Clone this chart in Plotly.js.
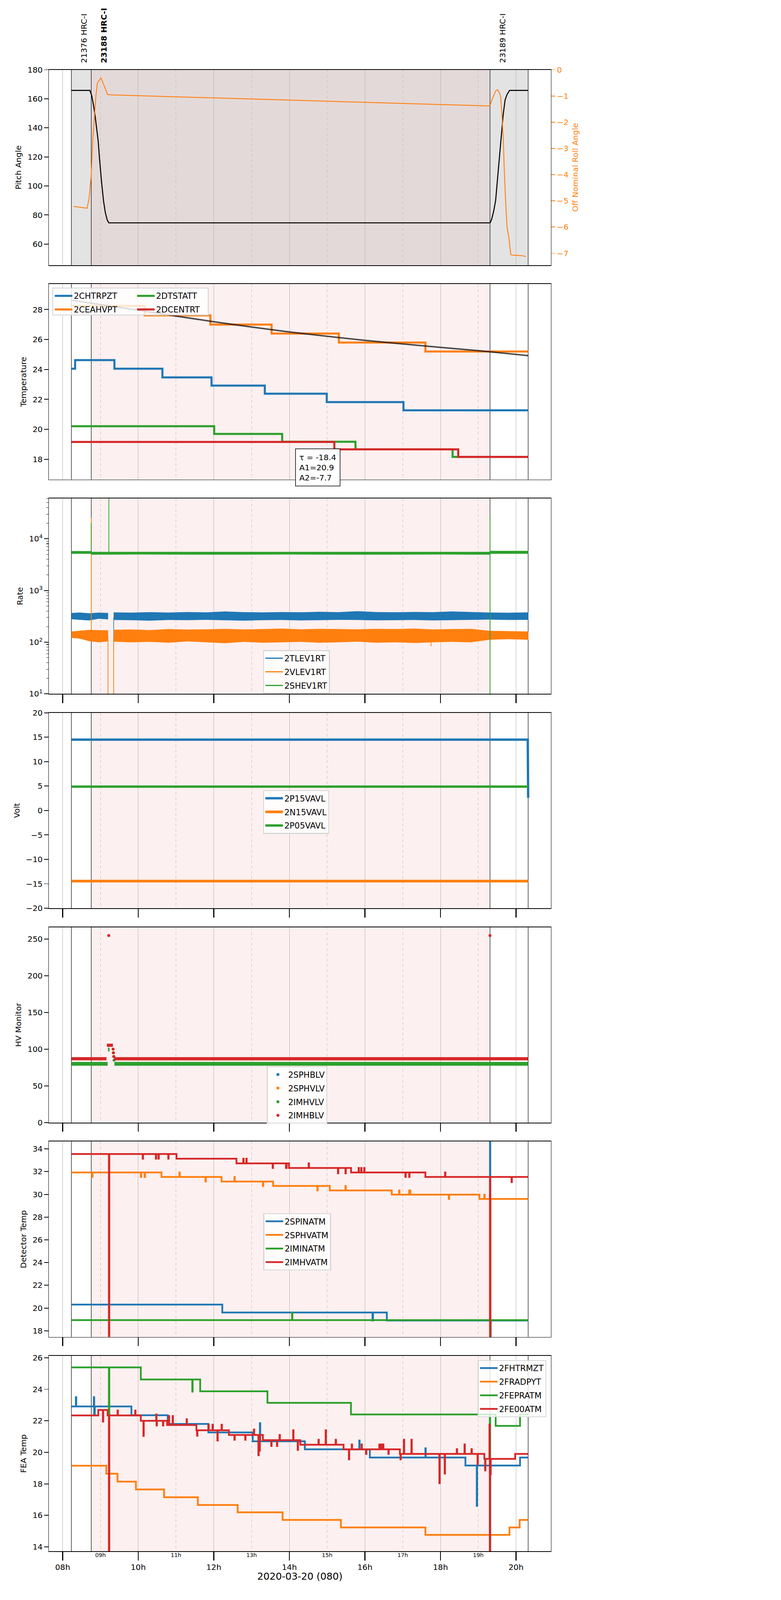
<!DOCTYPE html>
<html><head><meta charset="utf-8">
<script src="https://cdn.plot.ly/plotly-3.0.1.min.js"></script>
<style>body{margin:0;background:#fff}#chart{width:2000px;height:5400px;transform:scale(0.75);transform-origin:0 0}</style>
</head><body><div id="chart"></div>
<script>
// ---------------- DATA (time in decimal hours, 2020-03-20) ----------------
const evenHours = [8, 10, 12, 14, 16, 18, 20];
const evenLabels = ['08h', '10h', '12h', '14h', '16h', '18h', '20h'];
const oddHours = [9, 11, 13, 15, 17, 19];
const oddLabels = ['09h', '11h', '13h', '15h', '17h', '19h'];
const obsTimes = [8.23, 8.756, 19.31];
const obsLabels = ['21376 HRC-I', '<b>23188 HRC-I</b>', '23189 HRC-I'];
const obsEnd = 20.32;

// Panel 1: pitch / roll
const pitchT = [8.23, 8.72, 8.77, 8.82, 8.86, 8.90, 8.94, 8.975, 9.025, 9.08, 9.13, 9.18, 9.222, 19.311, 19.35, 19.41, 19.46, 19.51, 19.56, 19.61, 19.66, 19.71, 19.76, 19.83, 20.32];
const pitchV = [165.8, 165.8, 162, 155, 148, 140, 131, 119, 104, 90, 81.5, 76.5, 74.6, 74.6, 76.7, 82.9, 90.2, 105, 119.8, 134.6, 149.3, 159.2, 162.9, 165.8, 165.8];
const rollT = [8.289, 8.428, 8.60, 8.647, 8.70, 8.756, 8.80, 8.837, 8.88, 8.922, 8.96, 9.016, 9.10, 9.186, 9.287, 19.261, 19.311, 19.38, 19.46, 19.51, 19.56, 19.59, 19.62, 19.66, 19.69, 19.72, 19.76, 19.81, 19.86, 19.91, 20.06, 20.21, 20.26];
const rollV = [-5.21, -5.24, -5.27, -5.28, -4.9, -4.0, -2.6, -1.81, -1.0, -0.49, -0.42, -0.31, -0.62, -0.94, -0.96, -1.38, -1.36, -1.08, -0.81, -0.76, -0.88, -1.02, -1.56, -2.58, -3.88, -4.90, -5.99, -6.40, -7.05, -7.07, -7.08, -7.10, -7.13];

// Panel 2: temperature (step series)
const chtrT = [8.23, 8.33, 9.37, 10.64, 11.94, 13.35, 14.99, 17.02, 20.32];
const chtrV = [24.05, 24.62, 24.05, 23.47, 22.92, 22.38, 21.82, 21.27, 21.27];
const ceahT = [8.23, 10.17, 11.91, 13.53, 15.31, 17.60, 20.32];
const ceahV = [28.24, 27.61, 27.0, 26.4, 25.8, 25.2, 25.2];
const dtstT = [8.23, 12.01, 13.81, 15.75, 18.32, 20.32];
const dtstV = [20.21, 19.69, 19.17, 18.66, 18.16, 18.16];
const dcenT = [8.23, 15.19, 18.47, 20.32];
const dcenV = [19.16, 18.66, 18.16, 18.16];
const fitT = [8.23, 10.32, 11.91, 13.99, 16.01, 18.01, 19.26, 20.32];
const fitV = [28.63, 27.83, 27.22, 26.51, 25.94, 25.47, 25.19, 24.92];
const fitText = 'τ = -18.4<br>A1=20.9<br>A2=-7.7';

// Panel 3: rates (band envelopes + spikes)
const tlevA_T = [8.23, 8.45, 8.70, 8.95, 9.20];
const tlevA_hi = [365, 372, 360, 370, 365];
const tlevA_lo = [280, 272, 265, 285, 278];
const bandB_T = [9.35, 9.8, 10.3, 10.8, 11.3, 11.8, 12.3, 12.8, 13.3, 13.8, 14.3, 14.8, 15.3, 15.8, 16.3, 16.8, 17.3, 17.8, 18.3, 18.8, 19.3, 19.8, 20.32];
const tlevB_hi = [375, 370, 378, 372, 380, 375, 390, 378, 374, 380, 376, 384, 378, 395, 380, 376, 382, 378, 390, 380, 372, 368, 375];
const tlevB_lo = [270, 268, 262, 270, 268, 272, 266, 262, 268, 270, 265, 268, 272, 270, 266, 268, 270, 265, 268, 272, 275, 270, 272];
const vlevA_hi = [160, 165, 172, 170, 168];
const vlevA_lo = [122, 118, 105, 100, 104];
const vlevB_hi = [172, 175, 170, 178, 174, 176, 180, 175, 178, 182, 176, 180, 178, 176, 180, 178, 182, 175, 178, 180, 165, 162, 160];
const vlevB_lo = [103, 100, 102, 98, 104, 100, 96, 102, 98, 100, 102, 98, 100, 103, 98, 100, 97, 100, 102, 100, 112, 115, 112];
const shevT = [8.23, 8.75, 8.76, 10, 12, 14, 16, 18, 19.3, 19.32, 20.32];
const shev_hi = [5750, 5750, 5550, 5550, 5600, 5550, 5550, 5550, 5550, 5800, 5800];
const shev_lo = [5150, 5150, 4950, 5000, 4950, 5000, 4950, 5000, 4950, 5150, 5150];
const tlevSpikeT = [9.35, 9.35];
const tlevSpikeV = [300, 69];
const vlevSpikeT = [8.756, 8.756, null, 9.20, 9.20, null, 9.35, 9.35, null, 17.75, 17.75];
const vlevSpikeV = [130, 25400, null, 130, 1, null, 1, 130, null, 130, 83];
const shevSpikeT = [8.756, 8.756, null, 9.222, 9.222, null, 19.31, 19.31];
const shevSpikeV = [5300, 20400, null, 5300, 1e6, null, 29000, 1];

// Panel 4: volts
const p15T = [8.23, 20.31, 20.32];
const p15V = [14.5, 14.5, 2.6];
const n15T = [8.23, 20.32];
const n15V = [-14.45, -14.45];
const p05T = [8.23, 20.32];
const p05V = [4.88, 4.88];

// Panel 5: HV monitor
const imhbT = [8.23, 9.16, null, 9.17, 9.33, null, 9.36, 20.32];
const imhbV = [86.9, 86.9, null, 105.3, 105.3, null, 86.9, 86.9];
const imhbPtT = [9.22, 9.335, 9.345, 9.355, 19.31];
const imhbPtV = [254.8, 100, 95, 90, 254.8];
const imhvT = [8.23, 9.19, null, 9.20, 9.24, null, 9.37, 20.32];
const imhvV = [80, 80, null, 99.5, 99.5, null, 80, 80];
const imhvPtT = [9.34, 9.35, 9.36];
const imhvPtV = [95, 90, 85];

// Panel 6: detector temps (step, hv)
const spinT = [8.23, 12.225, 16.20, 16.215, 16.58, 19.31, 19.318, 20.32];
const spinV = [20.30, 19.61, 18.9, 19.61, 18.9, 40, 18.9, 18.9];
const sphvT = [8.23, 8.776, 8.79, 10.068, 10.08, 10.167, 10.18, 10.616, 11.09, 11.10, 11.78, 11.79, 12.205, 12.545, 12.555, 13.30, 13.31, 13.57, 14.74, 14.75, 15.07, 15.484, 15.494, 16.71, 16.905, 16.915, 17.17, 17.20, 18.22, 18.23, 19.03, 19.16, 19.17, 19.315, 19.325, 20.32];
const sphvV = [31.93, 31.53, 31.93, 31.53, 31.93, 31.53, 31.93, 31.53, 31.93, 31.53, 31.13, 31.53, 31.13, 31.53, 31.13, 30.74, 31.13, 30.74, 30.35, 30.74, 30.35, 30.74, 30.35, 29.98, 30.35, 29.98, 30.35, 29.98, 29.6, 29.98, 29.6, 29.98, 29.6, 0, 29.6, 29.6];
const iminT = [8.23, 14.07, 14.08, 19.32, 19.33, 20.32];
const iminV = [18.94, 19.61, 18.94, 0, 18.94, 18.94];
const imhvaT = [8.23, 9.223, 9.235, 10.118, 10.128, 10.466, 10.476, 10.535, 10.545, 10.794, 10.804, 11.012, 12.60, 12.78, 12.79, 12.86, 12.87, 13.557, 13.567, 13.91, 13.93, 13.99, 14.51, 14.52, 15.285, 15.295, 15.484, 15.494, 15.633, 15.832, 15.842, 15.90, 15.91, 15.98, 15.99, 17.07, 17.08, 17.17, 17.18, 17.60, 18.12, 18.13, 19.31, 19.318, 19.88, 19.89, 20.32];
const imhvaV = [33.55, 0, 33.55, 33.14, 33.55, 33.14, 33.55, 33.14, 33.55, 33.14, 33.55, 33.14, 32.73, 33.14, 32.73, 33.14, 32.73, 32.32, 32.73, 32.32, 32.73, 32.32, 32.73, 32.32, 31.85, 32.32, 31.85, 32.32, 31.93, 32.32, 31.93, 32.32, 31.93, 32.32, 31.93, 31.53, 31.93, 31.53, 31.93, 31.53, 31.93, 31.53, 0, 31.53, 31.08, 31.53, 31.53];

// Panel 7: FEA temps (step, hv)
const fhtrT = [8.23, 8.349, 8.36, 8.825, 8.835, 8.85, 9.82, 10.78, 11.856, 13.03, 13.22, 13.23, 14.41, 15.85, 15.86, 16.13, 17.60, 17.61, 18.66, 18.96, 18.97, 20.105, 20.32];
const fhtrV = [22.91, 23.5, 22.91, 23.5, 22.35, 22.91, 22.35, 21.80, 21.26, 20.70, 21.85, 20.70, 20.19, 20.75, 20.19, 19.67, 20.25, 19.67, 19.16, 16.6, 19.16, 19.67, 19.67];
const fradT = [8.23, 9.154, 9.452, 9.939, 10.683, 11.577, 12.632, 13.82, 15.364, 17.60, 19.826, 20.095, 20.32];
const fradV = [19.15, 18.64, 18.14, 17.64, 17.15, 16.66, 16.19, 15.71, 15.23, 14.76, 15.23, 15.71, 15.71];
const fepT = [8.23, 9.223, 9.235, 10.068, 11.43, 11.44, 11.64, 13.42, 15.63, 19.305, 19.315, 19.46, 20.105, 20.32];
const fepV = [25.39, 22.4, 25.39, 24.62, 23.85, 24.62, 23.87, 23.14, 22.40, 13, 22.40, 21.68, 22.40, 22.40];
const fe00T = [8.23, 8.943, 9.064, 9.074, 9.19, 9.223, 9.235, 9.452, 9.462, 9.918, 9.928, 10.068, 10.137, 10.147, 10.475, 10.485, 10.495, 10.654, 10.664, 10.765, 10.81, 10.82, 10.91, 10.92, 11.28, 11.29, 11.54, 11.557, 11.567, 11.857, 11.867, 11.966, 11.976, 12.095, 12.105, 12.205, 12.215, 12.40, 12.545, 12.555, 12.83, 12.84, 13.06, 13.07, 13.18, 13.19, 13.21, 13.22, 13.30, 13.52, 13.53, 13.67, 13.68, 13.74, 13.75, 14.10, 14.11, 14.22, 14.23, 14.29, 14.77, 14.78, 14.96, 14.97, 15.225, 15.235, 15.435, 15.575, 15.585, 15.65, 15.66, 15.91, 15.92, 16.03, 16.04, 16.38, 16.39, 16.43, 16.44, 16.48, 16.49, 16.62, 16.63, 16.925, 16.94, 16.95, 17.03, 17.04, 17.23, 17.24, 17.97, 17.98, 18.11, 18.12, 18.43, 18.44, 18.635, 18.645, 18.82, 18.83, 18.98, 18.99, 19.16, 19.18, 19.19, 19.295, 19.305, 19.315, 19.33, 19.976, 20.32];
const fe00V = [22.34, 22.69, 21.95, 22.69, 22.34, 13, 22.34, 22.65, 22.34, 22.65, 22.34, 22.0, 21.04, 22.0, 22.4, 21.7, 22.0, 21.7, 22.0, 21.73, 22.3, 21.73, 22.3, 21.73, 22.1, 21.73, 21.4, 21.05, 21.4, 21.75, 21.4, 21.75, 21.4, 20.75, 21.4, 21.75, 21.4, 21.1, 20.8, 21.1, 20.8, 21.1, 21.45, 21.1, 19.81, 21.1, 20.1, 21.1, 20.77, 20.4, 20.77, 20.4, 20.77, 21.1, 20.77, 21.4, 20.77, 20.15, 20.77, 20.48, 20.8, 20.48, 21.4, 20.48, 20.8, 20.48, 20.19, 19.55, 20.19, 20.5, 20.19, 20.5, 20.19, 19.9, 20.19, 20.5, 20.19, 20.5, 20.19, 20.5, 20.19, 19.9, 20.19, 19.9, 19.55, 19.9, 20.8, 19.9, 20.8, 19.9, 18.04, 19.9, 18.65, 19.9, 20.2, 19.9, 20.5, 19.9, 20.2, 19.9, 19.25, 19.9, 19.58, 18.85, 19.58, 21.75, 13, 18.6, 19.58, 19.9, 19.9];

// ---------------- STYLE / LAYOUT ----------------
const C = {blue: '#1f77b4', orange: '#ff7f0e', green: '#2ca02c', red: '#d62728'};
const FONT = 'DejaVu Sans';
const X_RANGE = [7.636, 20.922];
const TOP = 238, PH = 667, PSTEP = 731.67, BOT = 5295, PLOT_H = 5057, LEFT = 167, PLOT_W = 1714;
function dom(i) { const t = TOP + i * PSTEP, b = t + PH; return [(BOT - b) / PLOT_H, (BOT - t) / PLOT_H]; }
function px(x) { return (x - LEFT) / PLOT_W; }
function py(y) { return (BOT - y) / PLOT_H; }
const xn = i => i === 0 ? 'x' : 'x' + (i + 1);
const yn = i => i === 0 ? 'y' : 'y' + (i + 1);
function tr(i, o) { o.xaxis = xn(i); o.yaxis = yn(i); if (o.name) o.legendgroup = o.name; return o; }

const traces = [];
traces.push(tr(0, {x: pitchT, y: pitchV, mode: 'lines', line: {color: 'black', width: 3.5}, showlegend: false}));
traces.push({x: rollT, y: rollV, xaxis: 'x', yaxis: 'y8', mode: 'lines', line: {color: C.orange, width: 3}, showlegend: false});

const stepLine = (i, x, y, color, name, legend, w) => tr(i, {x: x, y: y, mode: 'lines', line: {color: color, width: w, shape: 'hv'}, name: name, legend: legend});
traces.push(stepLine(1, chtrT, chtrV, C.blue, '2CHTRPZT', 'legend', 7));
traces.push(stepLine(1, ceahT, ceahV, C.orange, '2CEAHVPT', 'legend', 7));
traces.push(stepLine(1, dtstT, dtstV, C.green, '2DTSTATT', 'legend2', 7));
traces.push(stepLine(1, dcenT, dcenV, C.red, '2DCENTRT', 'legend2', 7));
traces.push(tr(1, {x: fitT, y: fitV, mode: 'lines', line: {color: 'rgba(0,0,0,0.7)', width: 5, shape: 'spline'}, showlegend: false}));

function band(i, T, hi, lo, color) {
  return tr(i, {x: T.concat(T.slice().reverse()), y: hi.concat(lo.slice().reverse()), mode: 'lines', fill: 'toself',
    fillcolor: color, line: {color: color, width: 1}, showlegend: false, hoverinfo: 'skip'});
}
traces.push(band(2, tlevA_T, tlevA_hi, tlevA_lo, C.blue));
traces.push(band(2, bandB_T, tlevB_hi, tlevB_lo, C.blue));
traces.push(tr(2, {x: tlevSpikeT, y: tlevSpikeV, mode: 'lines', line: {color: C.blue, width: 2}, showlegend: false}));
traces.push(band(2, tlevA_T, vlevA_hi, vlevA_lo, C.orange));
traces.push(band(2, bandB_T, vlevB_hi, vlevB_lo, C.orange));
traces.push(tr(2, {x: vlevSpikeT, y: vlevSpikeV, mode: 'lines', line: {color: C.orange, width: 2.5}, showlegend: false, connectgaps: false}));
traces.push(band(2, shevT, shev_hi, shev_lo, C.green));
traces.push(tr(2, {x: shevSpikeT, y: shevSpikeV, mode: 'lines', line: {color: C.green, width: 2.5}, showlegend: false, connectgaps: false}));
[['2TLEV1RT', C.blue], ['2VLEV1RT', C.orange], ['2SHEV1RT', C.green]].forEach(([n, c]) =>
  traces.push(tr(2, {x: [null], y: [null], mode: 'lines', line: {color: c, width: 4}, name: n, legend: 'legend3'})));

traces.push(tr(3, {x: p15T, y: p15V, mode: 'lines', line: {color: C.blue, width: 8}, name: '2P15VAVL', legend: 'legend4'}));
traces.push(tr(3, {x: n15T, y: n15V, mode: 'lines', line: {color: C.orange, width: 9}, name: '2N15VAVL', legend: 'legend4'}));
traces.push(tr(3, {x: p05T, y: p05V, mode: 'lines', line: {color: C.green, width: 8}, name: '2P05VAVL', legend: 'legend4'}));

traces.push(tr(4, {x: [null], y: [null], mode: 'markers', marker: {color: C.blue, size: 10}, name: '2SPHBLV', legend: 'legend5'}));
traces.push(tr(4, {x: [null], y: [null], mode: 'markers', marker: {color: C.orange, size: 10}, name: '2SPHVLV', legend: 'legend5'}));
traces.push(tr(4, {x: imhvT, y: imhvV, mode: 'lines', line: {color: C.green, width: 13}, showlegend: false, connectgaps: false}));
traces.push(tr(4, {x: imhvPtT, y: imhvPtV, mode: 'markers', marker: {color: C.green, size: 10}, name: '2IMHVLV', legend: 'legend5'}));
traces.push(tr(4, {x: imhbT, y: imhbV, mode: 'lines', line: {color: C.red, width: 11}, showlegend: false, connectgaps: false}));
traces.push(tr(4, {x: imhbPtT, y: imhbPtV, mode: 'markers', marker: {color: C.red, size: 10}, name: '2IMHBLV', legend: 'legend5'}));

traces.push(stepLine(5, spinT, spinV, C.blue, '2SPINATM', 'legend6', 6));
traces.push(stepLine(5, sphvT, sphvV, C.orange, '2SPHVATM', 'legend6', 6));
traces.push(stepLine(5, iminT, iminV, C.green, '2IMINATM', 'legend6', 6));
traces.push(stepLine(5, imhvaT, imhvaV, C.red, '2IMHVATM', 'legend6', 6));

traces.push(stepLine(6, fhtrT, fhtrV, C.blue, '2FHTRMZT', 'legend7', 6));
traces.push(stepLine(6, fradT, fradV, C.orange, '2FRADPYT', 'legend7', 6));
traces.push(stepLine(6, fepT, fepV, C.green, '2FEPRATM', 'legend7', 6));
traces.push(stepLine(6, fe00T, fe00V, C.red, '2FE00ATM', 'legend7', 6));

traces.push({x: [null], y: [null], xaxis: 'x8', yaxis: 'y7', showlegend: false, hoverinfo: 'skip'});

const layout = {
  width: 2000, height: 5400,
  margin: {l: LEFT, r: 2000 - LEFT - PLOT_W, t: TOP, b: 5400 - BOT},
  paper_bgcolor: 'white', plot_bgcolor: 'white',
  font: {family: FONT, size: 27, color: 'black'},
  showlegend: true,
  shapes: [], annotations: []
};

const yTitles = ['Pitch Angle', 'Temperature', 'Rate', 'Volt', 'HV Monitor', 'Detector Temp', 'FEA Temp'];
const yRanges = [[45.5, 180], [16.65, 29.7], [1, 4.78], [-20, 20], [0, 266.2], [17.46, 34.65], [13.72, 26.12]];
const yDticks = [20, 2, null, 5, 50, 2, 2];

const minorLog = [];
[10, 100, 1000, 10000].forEach(d => { for (let k = 2; k <= 9; k++) minorLog.push(k * d); });

for (let i = 0; i < 7; i++) {
  const xa = {
    domain: [0, 1], anchor: yn(i), range: X_RANGE,
    tickmode: 'array', tickvals: evenHours, ticktext: evenLabels,
    ticks: i < 2 ? '' : 'outside', ticklen: 29, tickwidth: 3, tickcolor: 'black',
    showticklabels: i === 6, tickfont: {size: 27},
    showgrid: true, gridcolor: '#b0b0b0', gridwidth: 1.3,
    minor: {tickmode: 'array', tickvals: oddHours, showgrid: true, gridcolor: '#b8b8b8', griddash: 'dash', gridwidth: 1.3, ticks: ''},
    showline: true, mirror: true, linecolor: 'black', linewidth: 2.5, zeroline: false
  };
  if (i === 6) xa.title = {text: '2020-03-20 (080)', font: {size: 33}, standoff: 6};
  layout[i === 0 ? 'xaxis' : 'xaxis' + (i + 1)] = xa;

  const ya = {
    domain: dom(i), anchor: xn(i), range: yRanges[i],
    ticks: 'outside', ticklen: 14, tickwidth: 2.5, tickcolor: 'black', tickfont: {size: 27},
    showgrid: false, zeroline: false, showline: true, mirror: true, linecolor: 'black', linewidth: 2,
    title: {text: yTitles[i], font: {size: 27}, standoff: 14}
  };
  if (i === 2) {
    ya.type = 'log';
    ya.tickmode = 'array';
    ya.tickvals = [10, 100, 1000, 10000];
    ya.ticktext = ['10<sup>1</sup>', '10<sup>2</sup>', '10<sup>3</sup>', '10<sup>4</sup>'];
    ya.minor = {tickmode: 'array', tickvals: minorLog, ticks: 'outside', ticklen: 7, tickwidth: 1.5, tickcolor: 'black', showgrid: false};
  } else {
    ya.dtick = yDticks[i];
    ya.tick0 = 0;
  }
  layout[i === 0 ? 'yaxis' : 'yaxis' + (i + 1)] = ya;

  const yref = yn(i) + ' domain';
  if (i === 0) {
    layout.shapes.push({type: 'rect', xref: 'x', yref: yref, x0: obsTimes[0], x1: obsEnd, y0: 0, y1: 1, fillcolor: '#e3e3e3', line: {width: 0}, layer: 'below'});
    layout.shapes.push({type: 'rect', xref: 'x', yref: yref, x0: obsTimes[1], x1: obsTimes[2], y0: 0, y1: 1, fillcolor: '#e4d9d9', line: {width: 0}, layer: 'below'});
  } else {
    layout.shapes.push({type: 'rect', xref: xn(i), yref: yref, x0: obsTimes[1], x1: obsTimes[2], y0: 0, y1: 1, fillcolor: '#fdf0f0', line: {width: 0}, layer: 'below'});
  }
  obsTimes.concat([obsEnd]).forEach(t => layout.shapes.push({type: 'line', xref: xn(i), yref: yref, x0: t, x1: t, y0: 0, y1: 1, line: {color: 'black', width: 1.6}, layer: 'below'}));
}

layout.yaxis8 = {
  overlaying: 'y', side: 'right', anchor: 'x', range: [-7.45, 0],
  tickmode: 'array', tickvals: [0, -1, -2, -3, -4, -5, -6, -7],
  ticks: 'outside', ticklen: 14, tickwidth: 2.5, tickcolor: C.orange,
  tickfont: {size: 27, color: C.orange}, showgrid: false, zeroline: false, showline: false,
  title: {text: 'Off Nominal Roll Angle', font: {size: 27, color: C.orange}, standoff: 14}
};
layout.xaxis8 = {
  overlaying: 'x7', anchor: 'y7', side: 'bottom', range: X_RANGE,
  tickmode: 'array', tickvals: oddHours, ticktext: oddLabels, tickfont: {size: 19},
  ticks: '', showgrid: false, showline: false, zeroline: false
};

const LEG = {bgcolor: 'rgba(255,255,255,0.8)', bordercolor: '#d6d6d6', borderwidth: 3, font: {size: 28, family: FONT}, itemwidth: 60,
  tracegroupgap: 7, xref: 'paper', yref: 'paper', xanchor: 'left', yanchor: 'top'};
layout.legend = Object.assign({}, LEG, {bgcolor: 'rgba(0,0,0,0)', borderwidth: 0, x: px(182), y: py(985)});
layout.legend2 = Object.assign({}, LEG, {bgcolor: 'rgba(0,0,0,0)', borderwidth: 0, x: px(463), y: py(985)});
layout.legend3 = Object.assign({}, LEG, {x: px(898), y: py(2219)});
layout.legend4 = Object.assign({}, LEG, {x: px(898), y: py(2697)});
layout.legend5 = Object.assign({}, LEG, {x: px(911), y: py(3640)});
layout.legend6 = Object.assign({}, LEG, {x: px(899), y: py(4141)});
layout.legend7 = Object.assign({}, LEG, {x: px(1865), xanchor: 'right', y: py(4642)});
layout.shapes.push({type: 'rect', xref: 'paper', yref: 'paper', x0: px(180), x1: px(711), y0: py(1075), y1: py(983),
  fillcolor: 'rgba(255,255,255,0.8)', line: {color: '#d6d6d6', width: 3}, layer: 'above'});

obsTimes.forEach((t, k) => layout.annotations.push({
  x: t, xref: 'x', y: 1, yref: 'paper', yanchor: 'bottom', xanchor: 'center', xshift: 43, yshift: 21,
  text: obsLabels[k], textangle: -90, showarrow: false, font: {size: 27, color: 'black'}
}));
layout.annotations.push({
  x: 14.75, xref: 'x2', y: 0.061, yref: 'y2 domain', xanchor: 'center', yanchor: 'middle',
  text: fitText, align: 'left', showarrow: false, bgcolor: 'white', bordercolor: 'black', borderwidth: 2, borderpad: 12,
  font: {size: 27, color: 'black'}
});

Plotly.newPlot('chart', traces, layout, {staticPlot: true});
</script></body></html>
